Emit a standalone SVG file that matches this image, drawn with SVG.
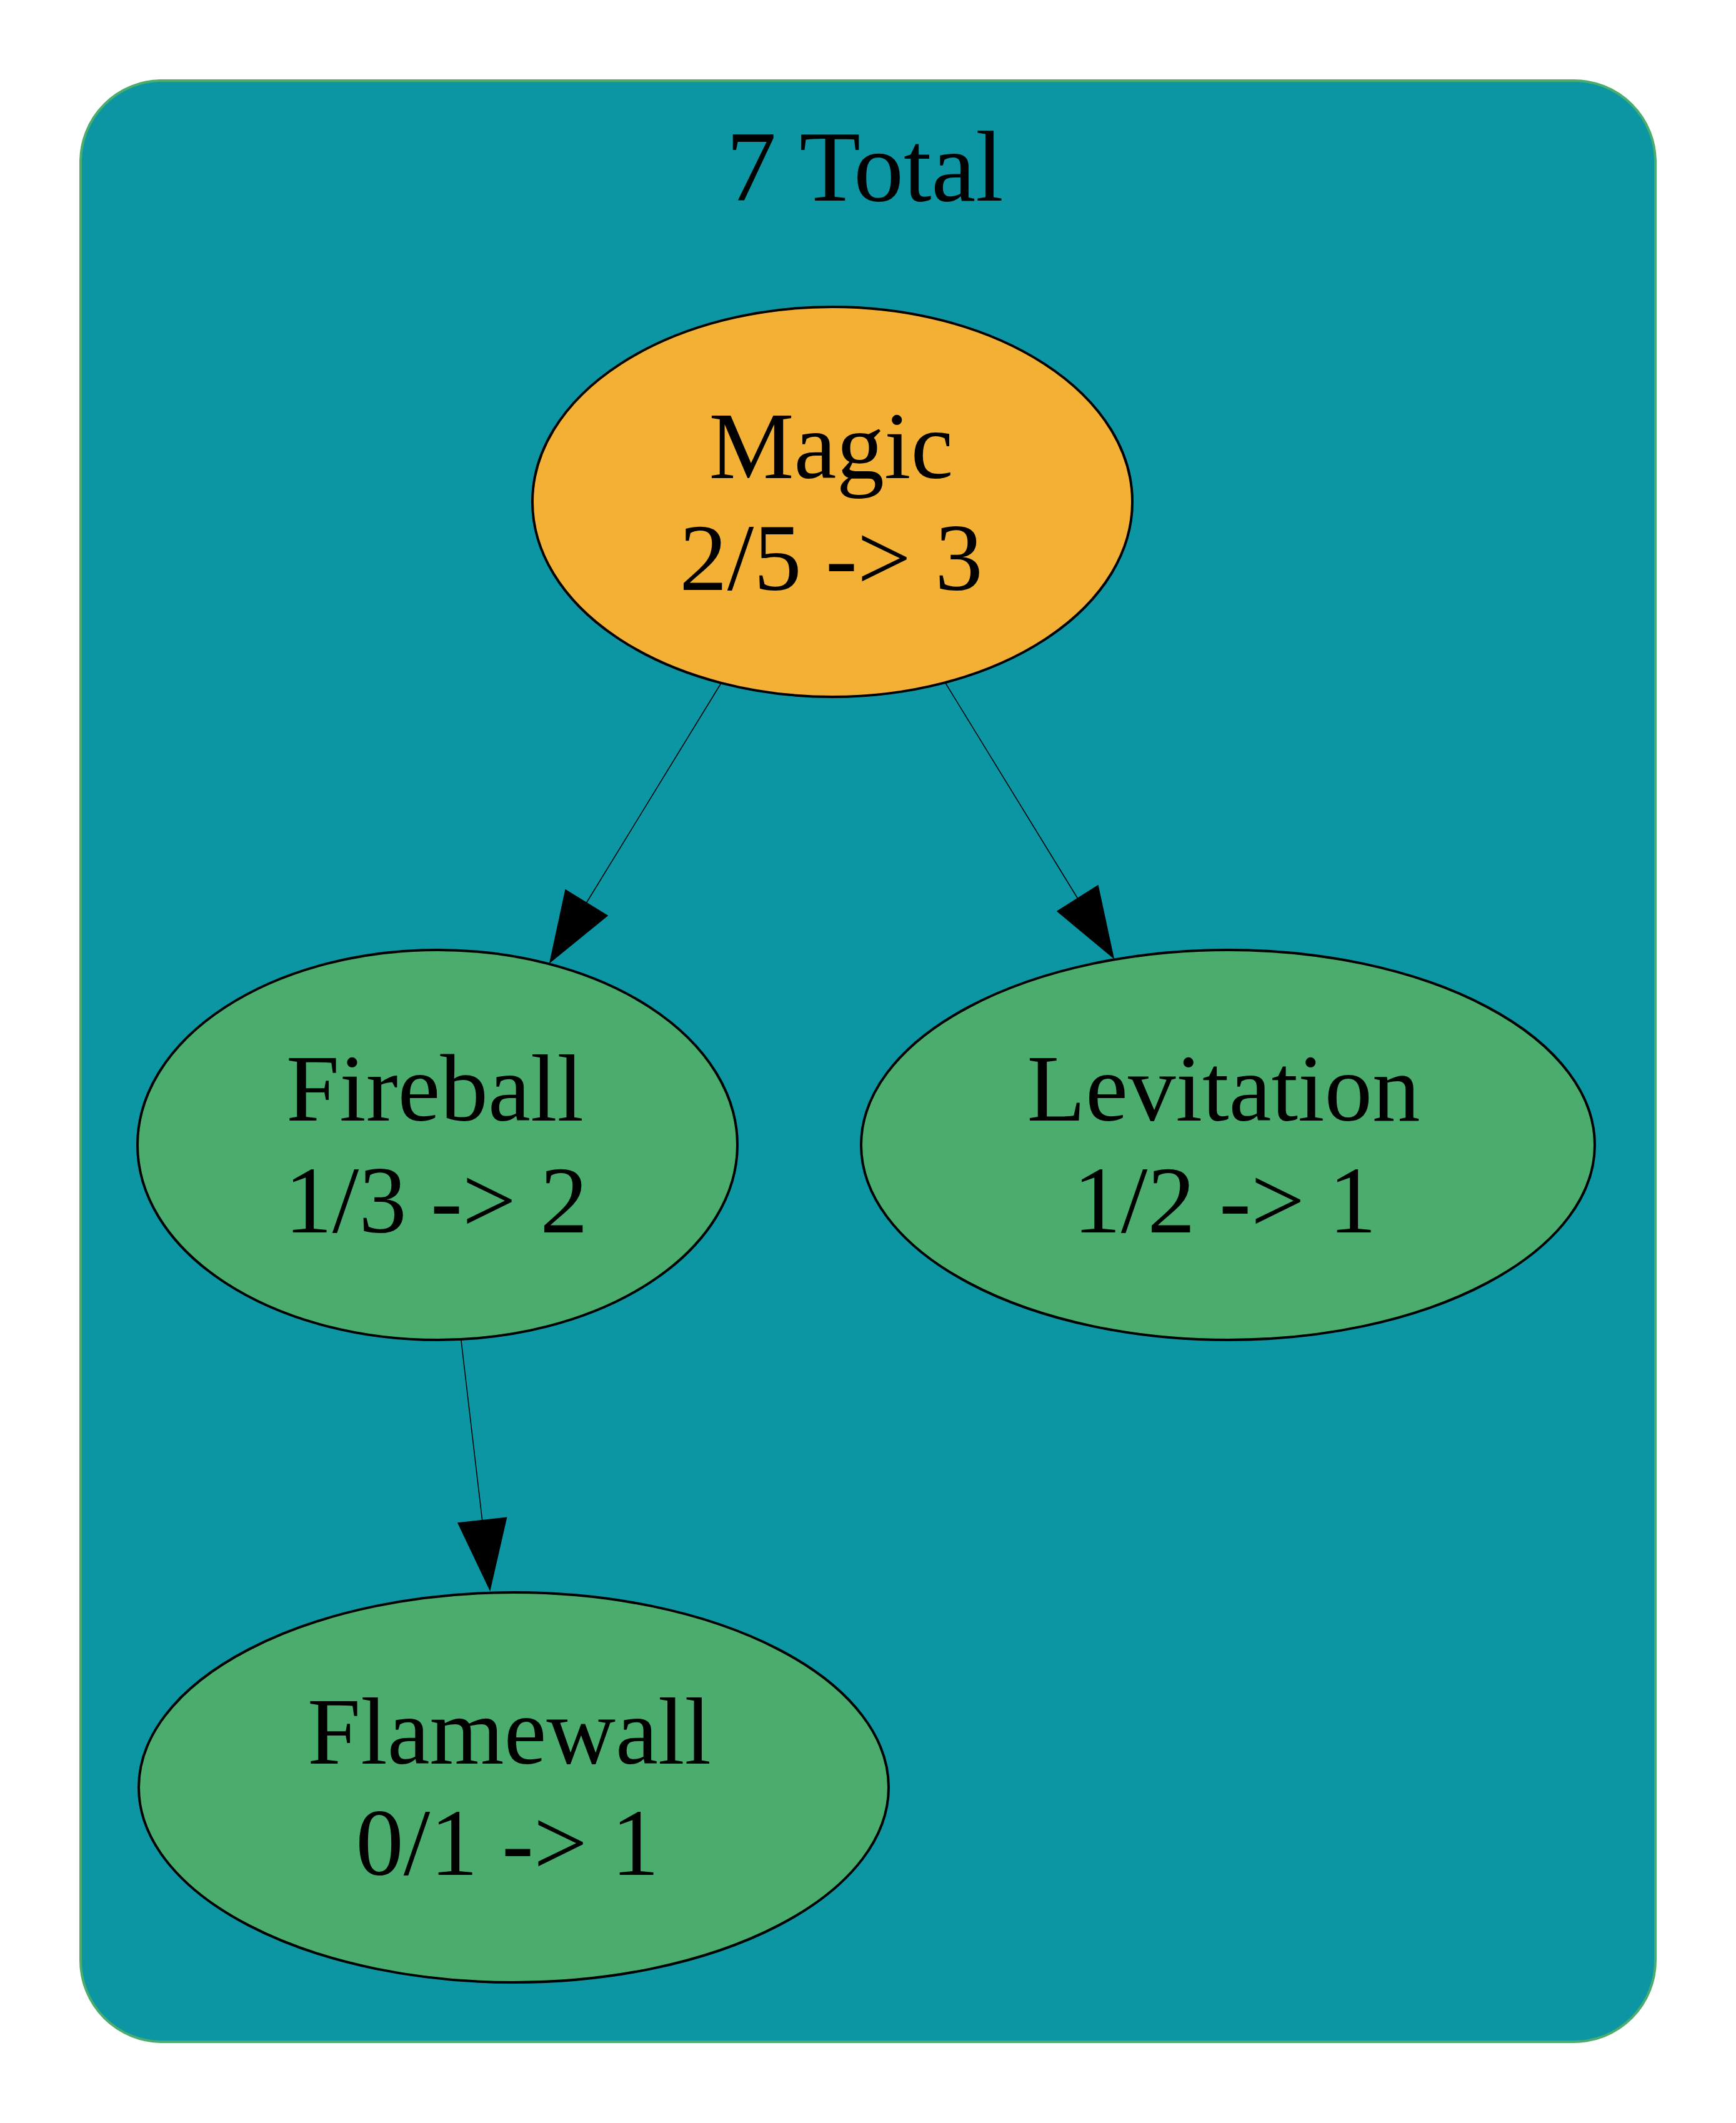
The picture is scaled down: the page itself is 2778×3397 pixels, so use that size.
<svg xmlns="http://www.w3.org/2000/svg" width="2778" height="3397" viewBox="0 0 2778 3397">
<style>
.lbl{font-family:"Liberation Serif","Times New Roman",serif;font-size:153px;fill:#000;text-anchor:middle}
.node{stroke:#000;stroke-width:4}
.edge{stroke:#000;stroke-width:1.5;fill:none}
.head{fill:#000;stroke:#000;stroke-width:1.5}
</style>
<rect width="2778" height="3397" fill="#ffffff"/>
<g id="cluster">
<rect x="129" y="129" width="2520" height="3138" rx="130" ry="130" fill="#0c95a3" stroke="#4aac6d" stroke-width="4"/>
<text class="lbl" x="1384" y="321" style="font-size:160px">7 Total</text>
</g>
<g id="edges">
<path class="edge" d="M1154,1093 L938.5,1444.5"/>
<polygon class="head" points="905,1424 972,1465 880,1540"/>
<path class="edge" d="M1513,1093 L1724.5,1437.5"/>
<polygon class="head" points="1757,1417 1692,1458 1782,1533"/>
<path class="edge" d="M738,2145 L771.7,2432.7"/>
<polygon class="head" points="733,2437 810.5,2428.4 784,2544"/>
</g>
<g id="node-magic">
<ellipse class="node" cx="1332" cy="803" rx="480" ry="312" fill="#f2b134"/>
<text class="lbl" x="1330" y="765">Magic</text>
<text class="lbl" x="1330" y="944">2/5 -&gt; 3</text>
</g>
<g id="node-fireball">
<ellipse class="node" cx="700" cy="1832" rx="480" ry="312" fill="#4aac6d"/>
<text class="lbl" x="696" y="1793">Fireball</text>
<text class="lbl" x="698" y="1972">1/3 -&gt; 2</text>
</g>
<g id="node-levitation">
<ellipse class="node" cx="1965" cy="1832" rx="587" ry="312" fill="#4aac6d"/>
<text class="lbl" x="1958" y="1793">Levitation</text>
<text class="lbl" x="1960" y="1972">1/2 -&gt; 1</text>
</g>
<g id="node-flamewall">
<ellipse class="node" cx="822" cy="2860" rx="600" ry="312" fill="#4aac6d"/>
<text class="lbl" x="815" y="2822">Flamewall</text>
<text class="lbl" x="812" y="3000">0/1 -&gt; 1</text>
</g>
</svg>
